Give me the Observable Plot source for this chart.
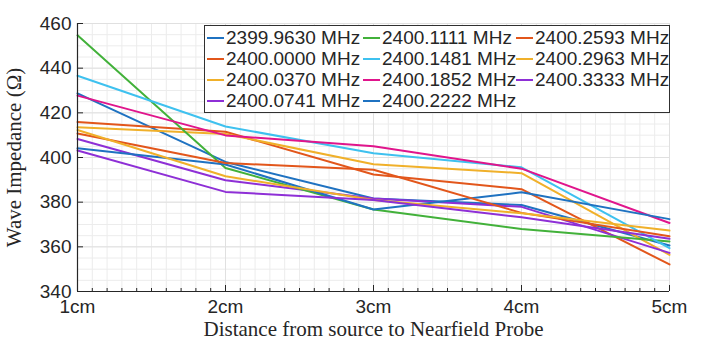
<!DOCTYPE html>
<html>
<head>
<meta charset="utf-8">
<script src="https://cdn.jsdelivr.net/npm/d3@7"></script>
<script src="https://cdn.jsdelivr.net/npm/@observablehq/plot@0.6"></script>
<style>
  html, body { margin: 0; padding: 0; background: #fff; }
  #wrap { position: relative; width: 703px; height: 355px; }
  #legend { position: absolute; left: 204px; top: 25px; width: 466px; height: 88px;
            border: 1px solid #303030; background: #fff; box-sizing: border-box;
            font-family: "Liberation Sans", Arial, sans-serif; font-size: 19px; color: #262626; }
  .item { position: absolute; height: 20px; display: flex; align-items: center; white-space: nowrap; }
  .item svg { margin-right: 2px; }
</style>
</head>
<body>
<div id="wrap"></div>
<script>
// ---- data ----
const xValues = [1, 2, 3, 4, 5];
const xTickLabels = ["1cm", "2cm", "3cm", "4cm", "5cm"];
const yTicks = [340, 360, 380, 400, 420, 440, 460];

const seriesNames = [
  "2399.9630 MHz", "2400.0000 MHz", "2400.0370 MHz", "2400.0741 MHz",
  "2400.1111 MHz", "2400.1481 MHz", "2400.1852 MHz", "2400.2222 MHz",
  "2400.2593 MHz", "2400.2963 MHz", "2400.3333 MHz"
];
const seriesColors = [
  "#1f72c1", "#e2561b", "#f0b02a", "#8e2fd6",
  "#42b13a", "#3ec1ef", "#e0158c", "#1f72c1",
  "#e2561b", "#f0b02a", "#8e2fd6"
];

const f2399_9630 = [428.7, 398.0, 381.6, 378.7, 360.6];
const f2400_0000 = [415.9, 411.5, 392.4, 385.8, 352.1];
const f2400_0370 = [413.5, 410.5, 397.0, 393.0, 356.4];
const f2400_0741 = [408.3, 389.8, 381.6, 377.9, 357.3];
const f2400_1111 = [454.7, 395.3, 376.7, 368.0, 362.4];
const f2400_1481 = [436.6, 413.9, 401.9, 395.6, 359.4];
const f2400_1852 = [427.7, 409.9, 405.0, 395.0, 370.7];
const f2400_2222 = [404.1, 396.9, 376.7, 384.4, 372.4];
const f2400_2593 = [410.7, 397.5, 394.5, 375.2, 364.7];
const f2400_2963 = [412.3, 391.6, 381.0, 375.0, 367.3];
const f2400_3333 = [403.1, 384.6, 381.0, 373.2, 363.6];

const xLabel = "Distance from source to Nearfield Probe";
const yLabel = "Wave Impedance (\u03A9)";

// ---- build table ----
const seriesValues = [f2399_9630, f2400_0000, f2400_0370, f2400_0741, f2400_1111,
  f2400_1481, f2400_1852, f2400_2222, f2400_2593, f2400_2963, f2400_3333];
const rows = [];
seriesNames.forEach((s, i) => seriesValues[i].forEach((v, j) => rows.push({s, x: xValues[j], v})));

const minorX = d3.range(10, 51).map(d => d / 10);
const minorY = d3.range(340, 461, 5);

const serif = "'Liberation Serif', 'Times New Roman', serif";
const axisColor = "#262626";
const noText = () => "";

const chart = Plot.plot({
  width: 703, height: 355,
  marginLeft: 77, marginRight: 34, marginTop: 23, marginBottom: 64,
  x: {domain: [1, 5]},
  y: {domain: [340, 460]},
  color: {domain: seriesNames, range: seriesColors},
  style: {background: "#fff", fontFamily: "'Liberation Sans', Arial, sans-serif", fontSize: "19px", color: axisColor, overflow: "visible"},
  marks: [
    Plot.ruleX(minorX, {stroke: "#ececec", strokeWidth: 1}),
    Plot.ruleY(minorY, {stroke: "#ececec", strokeWidth: 1}),
    Plot.ruleX(xValues, {stroke: "#e0e0e0", strokeWidth: 1}),
    Plot.ruleY(yTicks, {stroke: "#e0e0e0", strokeWidth: 1}),
    Plot.line(rows, {x: "x", y: "v", z: "s", stroke: "s", strokeWidth: 2, strokeLinejoin: "round"}),
    Plot.ruleY([340], {stroke: axisColor, strokeWidth: 1.2}),
    Plot.ruleX([1], {stroke: axisColor, strokeWidth: 1.2}),
    Plot.axisX({ticks: minorX, tickSize: 3, dy: -3, tickFormat: noText, label: null, stroke: axisColor}),
    Plot.axisX({ticks: xValues, tickSize: 6, dy: -6, tickFormat: noText, label: null, stroke: axisColor}),
    Plot.axisX({ticks: xValues, tickSize: 0, tickPadding: 8, tickFormat: (d, i) => xTickLabels[i], label: null, fill: axisColor}),
    Plot.axisY({ticks: yTicks, tickSize: 6, dx: 6, tickFormat: noText, label: null, stroke: axisColor}),
    Plot.axisY({ticks: yTicks, tickSize: 0, tickPadding: 6, label: null, fill: axisColor}),
    Plot.text([xLabel], {frameAnchor: "bottom", dy: 38, lineAnchor: "middle", textAnchor: "middle", fontFamily: serif, fontSize: 21, fill: axisColor}),
    Plot.text([yLabel], {frameAnchor: "left", dx: -63, rotate: -90, textAnchor: "middle", lineAnchor: "middle", fontFamily: serif, fontSize: 21, fill: axisColor})
  ]
});

const wrap = document.getElementById("wrap");
wrap.appendChild(chart);

// ---- legend (3 columns, column-major) ----
const legend = document.createElement("div");
legend.id = "legend";
const colX = [2, 158, 311];
seriesNames.forEach((s, i) => {
  const col = Math.floor(i / 4), row = i % 4;
  const item = document.createElement("div");
  item.className = "item";
  item.style.left = colX[col] + "px";
  item.style.top = (1.5 + row * 21.3) + "px";
  item.innerHTML = `<svg width="17" height="4"><line x1="0" x2="17" y1="2" y2="2" stroke="${seriesColors[i]}" stroke-width="2"/></svg><span>${s}</span>`;
  legend.appendChild(item);
});
wrap.appendChild(legend);
</script>
</body>
</html>
